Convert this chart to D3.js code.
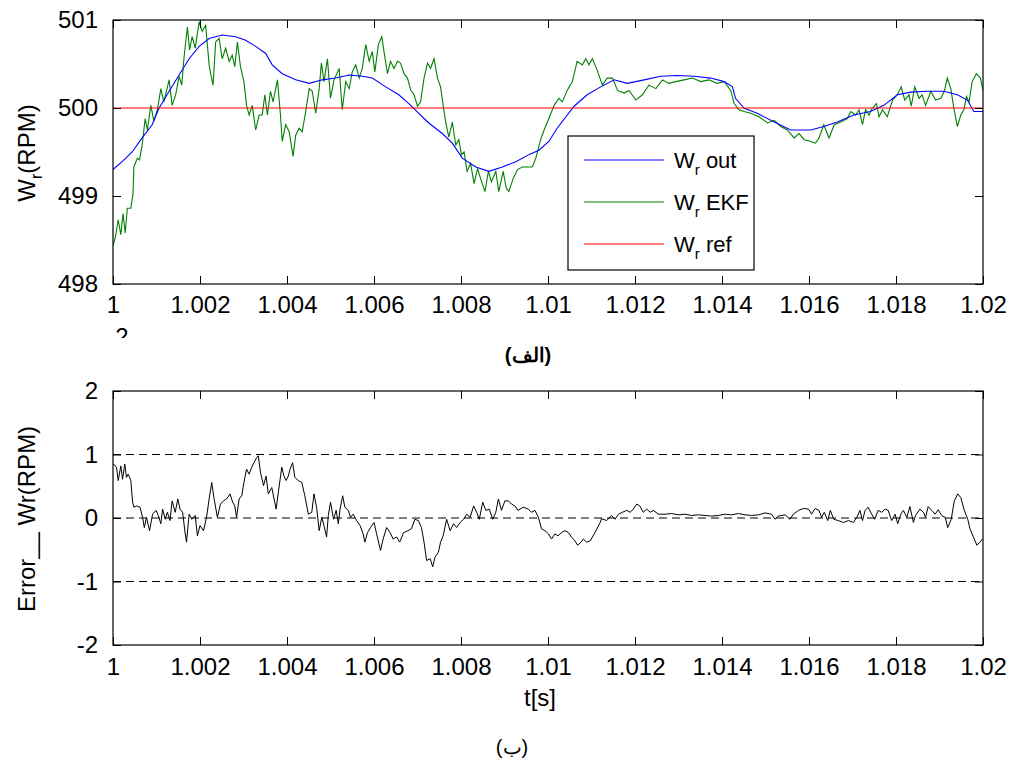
<!DOCTYPE html>
<html><head><meta charset="utf-8">
<script src="https://cdn.jsdelivr.net/npm/d3@7"></script>
<style>
body{margin:0;background:#fff}
text{font-family:"Liberation Sans",Arial,sans-serif;fill:#000}
</style>
</head><body>
<svg id="chart" width="1015" height="766"></svg>
<script>
// time values are offsets in milliseconds from t = 1 s
const xTickMs = [0,2,4,6,8,10,12,14,16,18,20];
const xTickLabels = ["1","1.002","1.004","1.006","1.008","1.01","1.012","1.014","1.016","1.018","1.02"];
const topYTicks = [498,499,500,501];
const botYTicks = [-2,-1,0,1,2];
const botDashes = [-1,0,1];

const outT = [0,0.21,0.44,0.67,0.90,1.06,1.29,1.52,1.75,1.98,2.21,2.51,2.82,3.05,3.28,3.51,3.66,3.89,4.20,4.51,4.81,5.12,5.43,5.73,5.96,6.27,6.57,6.80,7.03,7.26,7.57,7.80,8.03,8.34,8.64,8.95,9.26,9.56,9.79,
  10.02,10.21,10.60,10.90,11.21,11.52,11.82,12.21,12.59,12.97,13.36,13.74,14.05,14.24,14.31,14.51,14.81,15.2,15.58,16.04,16.34,16.65,17.03,17.41,17.72,18.03,18.34,18.72,19.1,19.41,19.64,19.79,20.0];
const outV = [499.30,499.39,499.50,499.66,499.81,500.0,500.19,500.375,500.56,500.70,500.79,500.83,500.81,500.77,500.70,500.62,500.49,500.39,500.32,500.28,500.32,500.34,500.375,500.36,500.34,500.24,500.15,500.05,499.94,499.83,499.71,499.60,499.43,499.33,499.28,499.33,499.39,499.47,499.52,
  499.62,499.77,500.02,500.15,500.24,500.32,500.28,500.32,500.36,500.37,500.36,500.34,500.30,500.24,500.11,499.996,499.94,499.84,499.75,499.75,499.79,499.84,499.92,499.96,500.03,500.15,500.18,500.19,500.19,500.15,500.09,499.96,499.96];

const ekfT = [0,0.05,0.12,0.18,0.23,0.28,0.33,0.41,0.46,0.48,0.56,0.61,0.67,0.74,0.79,0.87,0.94,1.02,1.10,1.17,1.29,1.36,1.44,1.52,1.58,1.63,1.71,1.76,1.82,1.89,1.98,2.05,2.13,2.21,2.25,2.30,2.36,2.44,2.51,2.59,2.67,2.74,2.80,2.86,2.93,3.01,3.07,3.13,3.20,3.28,3.36,3.43,3.49,3.55,3.62,3.68,3.78,3.85,3.89,3.97,4.05,4.14,4.20,4.28,4.35,4.43,4.51,4.58,4.66,4.74,4.79,4.85,4.93,5.00,5.08,5.20,5.27,5.35,5.43,5.50,5.58,5.66,5.73,5.81,5.89,5.96,6.02,6.10,6.18,6.23,6.31,6.38,6.46,6.54,6.61,6.69,6.77,6.84,6.92,7.0,7.07,7.15,7.23,7.30,7.38,7.46,7.53,7.61,7.66,7.72,7.80,7.88,7.95,8.01,8.07,8.14,8.22,8.30,8.38,8.45,8.55,8.63,8.70,8.80,8.87,8.97,9.04,9.10,9.20,9.30,9.41,9.53,9.64,9.72,9.83,9.91,
  10.02,10.14,10.25,10.33,10.44,10.56,10.67,10.79,10.87,10.94,11.02,11.13,11.25,11.36,11.48,11.60,11.75,11.86,12.02,12.17,12.32,12.48,12.63,12.78,12.94,13.13,13.32,13.51,13.70,13.89,14.05,14.20,14.28,14.39,14.51,14.66,14.85,15.05,15.20,15.35,15.50,15.66,15.77,15.89,16.04,16.15,16.23,16.34,16.46,16.58,16.73,16.88,16.96,17.07,17.15,17.23,17.30,17.38,17.45,17.55,17.61,17.69,17.80,17.92,18.03,18.12,18.20,18.30,18.35,18.43,18.53,18.60,18.68,18.80,18.91,19.03,19.11,19.18,19.26,19.33,19.41,19.49,19.56,19.62,19.68,19.75,19.85,19.94,20.0];
const ekfV = [498.44,498.52,498.73,498.56,498.80,498.58,498.86,498.86,499.03,499.33,499.43,499.41,499.58,499.88,499.75,500.03,499.85,499.98,500.22,500.07,500.32,500.03,500.15,500.36,500.26,500.56,500.92,500.66,500.81,500.68,500.98,500.87,500.94,500.49,500.375,500.26,500.75,500.79,500.56,500.68,500.53,500.60,500.47,500.75,500.47,500.30,500.03,499.92,500.03,499.75,499.92,499.92,500.15,499.92,500.19,500.07,500.32,499.92,499.62,499.81,499.73,499.45,499.69,499.77,499.73,499.96,500.22,500.19,499.94,500.22,500.51,500.30,500.56,500.11,500.32,500.45,499.98,500.30,500.22,500.41,500.49,500.34,500.45,500.72,500.53,500.64,500.41,500.72,500.81,500.64,500.39,500.53,500.45,500.53,500.51,500.39,500.34,500.21,500.15,500.02,500.07,500.34,500.51,500.45,500.56,500.34,500.24,499.96,499.81,499.67,499.84,499.58,499.64,499.47,499.50,499.28,499.37,499.14,499.31,499.20,499.05,499.28,499.16,499.28,499.05,499.28,499.09,499.05,499.20,499.30,499.33,499.33,499.33,499.43,499.64,499.75,
  499.88,500.03,500.11,500.07,500.20,500.30,500.53,500.49,500.56,500.49,500.56,500.43,500.26,500.34,500.34,500.20,500.17,500.20,500.09,500.15,500.26,500.22,500.32,500.28,500.30,500.32,500.34,500.30,500.32,500.28,500.30,500.20,500.05,499.98,499.96,499.94,499.90,499.83,499.86,499.79,499.75,499.66,499.71,499.64,499.62,499.60,499.66,499.81,499.66,499.81,499.84,499.88,499.96,499.92,499.98,499.81,499.98,499.92,499.996,500.05,499.90,499.98,499.90,500.09,500.15,500.24,500.09,500.15,500.02,500.24,500.11,500.15,500.03,500.19,500.09,500.11,500.19,500.34,500.22,499.996,499.79,499.92,499.98,500.13,500.07,500.30,500.39,500.34,500.20];

const refT = [0,20];
const refV = [500,500];

const errT = [0.01,0.08,0.12,0.18,0.22,0.27,0.31,0.35,0.41,0.45,0.48,0.54,0.62,0.68,0.72,0.77,0.84,0.91,0.99,1.04,1.10,1.14,1.20,1.25,1.31,1.36,1.43,1.49,1.54,1.60,1.66,1.69,1.75,1.81,1.89,1.94,2.00,2.08,2.15,2.21,2.27,2.32,2.40,2.47,2.54,2.61,2.69,2.75,2.80,2.84,2.90,2.96,3.01,3.07,3.13,3.19,3.24,3.30,3.34,3.39,3.46,3.52,3.57,3.65,3.75,3.80,3.88,3.93,3.98,4.03,4.07,4.13,4.18,4.26,4.34,4.41,4.49,4.57,4.62,4.68,4.74,4.80,4.85,4.91,4.95,5.00,5.07,5.13,5.18,5.22,5.28,5.33,5.41,5.46,5.52,5.60,5.68,5.75,5.79,5.85,5.92,6.00,6.06,6.15,6.21,6.29,6.37,6.44,6.52,6.59,6.68,6.78,6.86,6.94,7.02,7.09,7.15,7.21,7.29,7.35,7.40,7.48,7.53,7.59,7.67,7.75,7.83,7.90,7.98,8.06,8.13,8.21,8.29,8.36,8.42,8.50,8.57,8.65,8.73,8.80,8.86,8.93,9.01,9.09,9.16,9.24,9.31,9.43,9.55,9.62,9.70,9.78,9.85,9.93,
  10.01,10.08,10.16,10.23,10.31,10.39,10.47,10.54,10.62,10.68,10.76,10.81,10.89,10.97,11.08,11.20,11.23,11.35,11.46,11.54,11.62,11.71,11.81,11.89,11.96,12.04,12.11,12.19,12.27,12.35,12.42,12.54,12.69,12.84,13.00,13.15,13.30,13.46,13.61,13.76,13.92,14.07,14.22,14.38,14.53,14.68,14.84,14.99,15.14,15.22,15.29,15.45,15.56,15.64,15.76,15.87,15.99,16.06,16.14,16.23,16.29,16.35,16.43,16.49,16.57,16.67,16.79,16.91,17.02,17.10,17.17,17.23,17.29,17.36,17.44,17.51,17.59,17.67,17.75,17.82,17.90,17.98,18.04,18.11,18.17,18.25,18.32,18.40,18.45,18.55,18.63,18.68,18.74,18.82,18.90,18.97,19.05,19.13,19.19,19.27,19.34,19.42,19.49,19.57,19.65,19.70,19.78,19.86,19.93,19.99];
const errV = [0.85,0.80,0.59,0.82,0.61,0.85,0.64,0.69,0.59,0.25,0.17,0.19,0.17,0.01,-0.15,0.01,-0.20,0.06,0.12,0.04,-0.09,0.14,-0.02,0.09,-0.04,0.27,0.09,0.30,0.14,0.09,-0.25,-0.38,0.06,-0.02,0.04,-0.28,-0.12,-0.20,0.01,0.30,0.56,0.32,0.01,0.22,0.27,0.30,0.38,0.25,0.19,0.01,0.30,0.35,0.56,0.77,0.69,0.80,0.87,0.95,0.98,0.72,0.51,0.66,0.38,0.48,0.14,0.40,0.80,0.66,0.59,0.66,0.77,0.87,0.64,0.59,0.56,0.35,0.06,0.09,0.38,0.17,-0.20,0.01,-0.12,-0.30,0.04,0.25,-0.02,0.12,-0.09,0.14,0.35,0.17,0.12,0.01,0.06,-0.04,-0.12,-0.25,-0.38,-0.23,-0.15,-0.07,-0.25,-0.51,-0.33,-0.15,-0.23,-0.33,-0.30,-0.38,-0.23,-0.20,-0.17,-0.02,-0.04,-0.15,-0.38,-0.67,-0.64,-0.77,-0.62,-0.54,-0.38,-0.28,-0.02,-0.20,-0.09,-0.15,-0.07,-0.02,0.06,0.01,0.19,0.09,-0.02,0.25,0.12,0.14,-0.02,0.09,0.30,0.12,0.27,0.27,0.22,0.19,0.12,0.17,0.14,0.09,0.12,0.01,-0.17,-0.20,
  -0.25,-0.33,-0.25,-0.28,-0.23,-0.20,-0.23,-0.30,-0.36,-0.43,-0.38,-0.33,-0.38,-0.36,-0.23,-0.07,-0.01,-0.04,0.04,-0.02,0.06,0.09,0.12,0.09,0.14,0.22,0.19,0.09,0.14,0.09,0.12,0.06,0.06,0.07,0.05,0.06,0.04,0.05,0.04,0.03,0.04,0.06,0.05,0.07,0.05,0.04,0.05,0.08,0.06,-0.02,0.03,0.05,-0.02,0.06,0.12,0.15,0.14,0.06,0.15,0.12,0.01,0.09,-0.04,0.12,-0.02,-0.04,-0.07,-0.04,-0.07,0.01,0.12,-0.04,0.12,0.17,0.06,-0.02,0.12,0.09,0.14,0.12,-0.04,0.06,-0.09,0.06,0.12,0.01,0.18,-0.07,0.04,0.14,0.09,0.01,0.18,0.12,0.06,0.13,0.04,0.01,-0.15,-0.02,0.27,0.38,0.32,0.12,-0.02,-0.17,-0.30,-0.43,-0.38,-0.33];

const legendLabels = [["W","r"," out"],["W","r"," EKF"],["W","r"," ref"]];
const legendColors = ["#0000ff","#008000","#ff0000"];

const svg = d3.select("#chart");
const FS = 24;
const LFS = 22;
const L = 113, R = 983;
const top1 = {t:20, b:284};
const top2 = {t:391, b:645};

const x = d3.scaleLinear().domain([0,20]).range([L,R]);
const y1 = d3.scaleLinear().domain([498,501]).range([top1.b, top1.t]);
const y2 = d3.scaleLinear().domain([-2,2]).range([top2.b, top2.t]);

const defs = svg.append("defs");
defs.append("clipPath").attr("id","clip1").append("rect").attr("x",L).attr("y",top1.t).attr("width",R-L).attr("height",top1.b-top1.t);
defs.append("clipPath").attr("id","clip2").append("rect").attr("x",L).attr("y",top2.t).attr("width",R-L).attr("height",top2.b-top2.t);
defs.append("clipPath").attr("id","clipStray").append("rect").attr("x",100).attr("y",320).attr("width",40).attr("height",18);

function styleAxis(g){
  g.attr("font-family",null).attr("font-size",null);
  g.select(".domain").remove();
  g.selectAll(".tick line").attr("stroke","#000").attr("stroke-width",1);
  g.selectAll("text").attr("font-size",FS).attr("fill","#000");
}
const yFmt = d => String(d);
function drawAxes(yScale, yTicks, area, labelPad){
  const fmt = d => xTickLabels[xTickMs.indexOf(d)];
  svg.append("g").attr("transform",`translate(0,${area.b})`)
    .call(d3.axisBottom(x).tickValues(xTickMs).tickFormat(fmt).tickSize(-8).tickPadding(labelPad)).call(styleAxis);
  svg.append("g").attr("transform",`translate(0,${area.t})`)
    .call(d3.axisTop(x).tickValues(xTickMs).tickFormat("").tickSize(-8)).call(styleAxis);
  svg.append("g").attr("transform",`translate(${L},0)`)
    .call(d3.axisLeft(yScale).tickValues(yTicks).tickFormat(yFmt).tickSize(-8).tickPadding(15)).call(styleAxis);
  svg.append("g").attr("transform",`translate(${R},0)`)
    .call(d3.axisRight(yScale).tickValues(yTicks).tickFormat("").tickSize(-8)).call(styleAxis);
  svg.append("rect").attr("x",L).attr("y",area.t).attr("width",R-L).attr("height",area.b-area.t)
    .attr("fill","none").attr("stroke","#000").attr("stroke-width",1.2);
}

// ---------- top plot ----------
const line1 = d3.line().x(d=>x(d[0])).y(d=>y1(d[1]));
const g1 = svg.append("g").attr("clip-path","url(#clip1)");
g1.append("path").datum(d3.zip(ekfT,ekfV)).attr("d",line1).attr("fill","none").attr("stroke","#008000").attr("stroke-width",1.1);
g1.append("path").datum(d3.zip(outT,outV)).attr("d",line1).attr("fill","none").attr("stroke","#0000ff").attr("stroke-width",1.1);
g1.append("path").datum(d3.zip(refT,refV)).attr("d",line1).attr("fill","none").attr("stroke","#ff0000").attr("stroke-width",1.2);
drawAxes(y1, topYTicks, top1, 12);

// legend
const lg = svg.append("g");
lg.append("rect").attr("x",568).attr("y",136).attr("width",186).attr("height",134).attr("fill","#fff").attr("stroke","#000").attr("stroke-width",1.2);
legendLabels.forEach((lab,i)=>{
  const yy = 160 + i*42;
  lg.append("line").attr("x1",584).attr("x2",664).attr("y1",yy).attr("y2",yy).attr("stroke",legendColors[i]).attr("stroke-width",1.2);
  const t = lg.append("text").attr("x",674).attr("y",yy+8).attr("font-size",LFS);
  t.append("tspan").text(lab[0]);
  t.append("tspan").attr("font-size",15).attr("dy",7).text(lab[1]);
  t.append("tspan").attr("dy",-7).text(lab[2]);
});

// y title top
const yt1 = svg.append("text").attr("transform","translate(35,153) rotate(-90)").attr("text-anchor","middle").attr("font-size",FS);
yt1.append("tspan").text("W");
yt1.append("tspan").attr("font-size",16).attr("dy",7).text("r");
yt1.append("tspan").attr("dy",-7).text("(RPM)");

// stray partially hidden label under the top axis (as in the source figure)
svg.append("text").attr("clip-path","url(#clipStray)").attr("x",122).attr("y",345).attr("text-anchor","middle").attr("font-size",FS).text("2");

// ---------- bottom plot ----------
const line2 = d3.line().x(d=>x(d[0])).y(d=>y2(d[1]));
const g2 = svg.append("g").attr("clip-path","url(#clip2)");
botDashes.forEach(v=>{
  g2.append("line").attr("x1",L).attr("x2",R).attr("y1",y2(v)).attr("y2",y2(v)).attr("stroke","#000").attr("stroke-width",1).attr("stroke-dasharray","8,5");
});
g2.append("path").datum(d3.zip(errT,errV)).attr("d",line2).attr("fill","none").attr("stroke","#000").attr("stroke-width",1);
drawAxes(y2, botYTicks, top2, 13);

svg.append("text").attr("transform","translate(35,519) rotate(-90)").attr("text-anchor","middle").attr("font-size",FS).text("Error__ Wr(RPM)");
svg.append("text").attr("x",540).attr("y",706).attr("text-anchor","middle").attr("font-size",FS).text("t[s]");

// captions
svg.append("text").attr("x",528).attr("y",362).attr("text-anchor","middle").attr("font-size",20).attr("font-weight","bold").attr("font-family","DejaVu Sans, sans-serif").text("(الف)");
svg.append("text").attr("x",512).attr("y",754).attr("text-anchor","middle").attr("font-size",20).attr("font-family","DejaVu Sans, sans-serif").text("(ب)");
</script>
</body></html>
